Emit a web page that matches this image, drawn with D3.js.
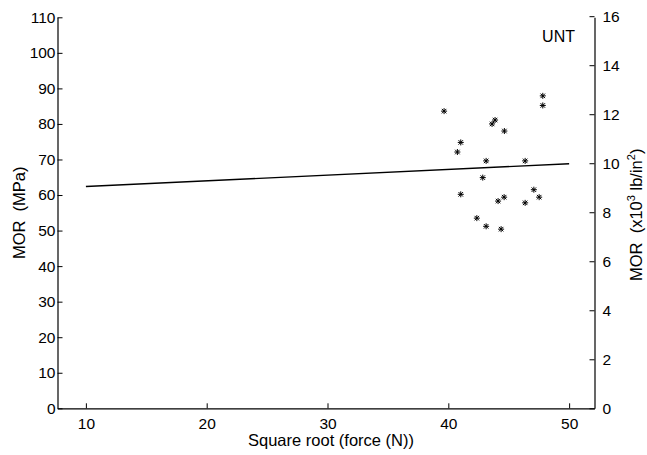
<!DOCTYPE html>
<html><head><meta charset="utf-8">
<script src="https://cdn.jsdelivr.net/npm/d3@7"></script>
<style>body{margin:0;background:#fff}svg{display:block}text{font-family:"Liberation Sans",Arial,Helvetica,sans-serif;fill:#000}</style>
</head><body>
<script>
// Data
const pointX = [47.82,47.82,39.65,43.87,43.62,44.64,41.03,40.75,43.13,46.36,42.85,47.08,41.03,47.52,44.62,44.12,46.36,42.36,43.13,44.37];
const pointY = [87.9,85.2,83.6,81.1,80.0,78.0,74.8,72.1,69.6,69.6,64.9,61.5,60.2,59.4,59.4,58.3,57.8,53.5,51.2,50.4];
const fitX = [10, 50];
const fitY = [62.4, 68.8];
const xTicks = [10,20,30,40,50];
const yTicks = [0,10,20,30,40,50,60,70,80,90,100,110];
const y2Ticks = [0,2,4,6,8,10,12,14,16];

const W = 647, H = 455;
const L = 57.5, R = 594.5, T = 17.3, B = 408.3;
const svg = d3.select("body").append("svg").attr("width", W).attr("height", H);

const x = d3.scaleLinear().domain([7.65, 52.1]).range([L, R]);
const y = d3.scaleLinear().domain([0, 110]).range([B, T]);
const y2 = d3.scaleLinear().domain([0, 110/6.894757]).range([B, T]);

const tl = 5;
const gx = svg.append("g").attr("transform", `translate(0,${B})`)
  .call(d3.axisBottom(x).tickValues(xTicks).tickSizeInner(-tl).tickSizeOuter(0).tickPadding(8));
const gy = svg.append("g").attr("transform", `translate(${L},0)`)
  .call(d3.axisLeft(y).tickValues(yTicks).tickSizeInner(-tl).tickSizeOuter(0).tickPadding(3));
const gy2 = svg.append("g").attr("transform", `translate(${R},0)`)
  .call(d3.axisRight(y2).tickValues(y2Ticks).tickSizeInner(-tl).tickSizeOuter(0).tickPadding(8));

[gx, gy, gy2].forEach(g => {
  g.select(".domain").attr("stroke", "#000").attr("stroke-width", 1.2);
  g.selectAll(".tick line").attr("stroke", "#000").attr("stroke-width", 1);
  g.selectAll(".tick text").attr("font-size", 15.5).attr("font-family", '"Liberation Sans",Arial,sans-serif').attr("fill", "#000");
});
gy.selectAll(".tick text").attr("x", -2);
gy2.selectAll(".tick text").attr("x", 8);
gx.selectAll(".tick text").attr("y", 10);

svg.append("path")
  .datum(fitX.map((d, i) => [d, fitY[i]]))
  .attr("d", d3.line().x(d => x(d[0])).y(d => y(d[1])))
  .attr("fill", "none").attr("stroke", "#000").attr("stroke-width", 1.4);

const s = 3;
const star = `M${-s},0L${s},0M0,${-s}L0,${s}M${-s*0.75},${-s*0.75}L${s*0.75},${s*0.75}M${-s*0.75},${s*0.75}L${s*0.75},${-s*0.75}`;
svg.append("g").selectAll("path").data(pointX.map((d, i) => [d, pointY[i]])).join("path")
  .attr("transform", d => `translate(${x(d[0])},${y(d[1])})`)
  .attr("d", star).attr("fill", "none").attr("stroke", "#000").attr("stroke-width", 1);

svg.append("text").attr("x", 331).attr("y", 446).attr("text-anchor", "middle")
  .attr("font-size", 16.5).text("Square root (force (N))");
svg.append("text").attr("transform", `translate(25,${(T + B) / 2}) rotate(-90)`).attr("text-anchor", "middle")
  .attr("font-size", 16.5).attr("xml:space", "preserve").style("white-space", "pre").text("MOR  (MPa)");
const rt = svg.append("text").attr("transform", `translate(642,${(T + B) / 2 + 2}) rotate(-90)`).attr("text-anchor", "middle")
  .attr("font-size", 16.5).style("white-space", "pre");
rt.append("tspan").text("MOR  (x10");
rt.append("tspan").attr("font-size", 11).attr("dy", -7).text("3");
rt.append("tspan").attr("dy", 7).text(" lb/in");
rt.append("tspan").attr("font-size", 11).attr("dy", -7).text("2");
rt.append("tspan").attr("dy", 7).text(")");
svg.append("text").attr("x", 575).attr("y", 42).attr("text-anchor", "end").attr("font-size", 16).text("UNT");
</script>
</body></html>
